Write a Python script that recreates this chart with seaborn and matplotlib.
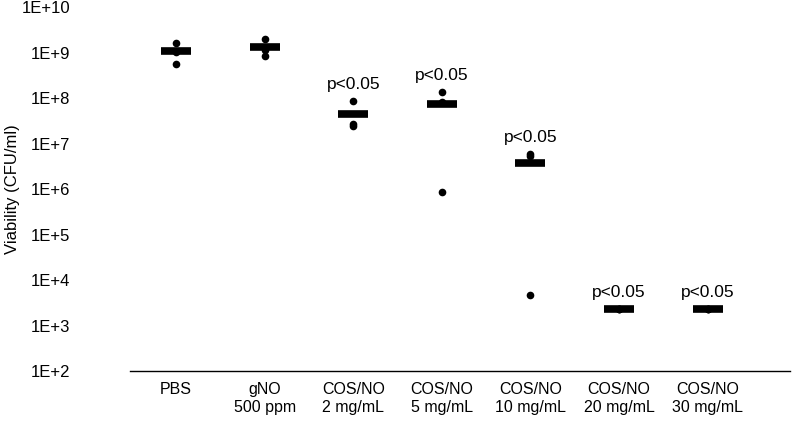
import numpy as np
import pandas as pd
import matplotlib
matplotlib.use('Agg')
import matplotlib.pyplot as plt
import seaborn as sns

# groups and replicate values (CFU/ml)
groups = ['PBS', 'gNO\n500 ppm', 'COS/NO\n2 mg/mL', 'COS/NO\n5 mg/mL',
          'COS/NO\n10 mg/mL', 'COS/NO\n20 mg/mL', 'COS/NO\n30 mg/mL']
rep1 = [1.6e9, 2.0e9, 8.4e7, 1.35e8, 5.8e6, 2.3e3, 2.3e3]
rep2 = [1.05e9, 1.12e9, 2.7e7, 8.1e7, 5.2e6, 2.3e3, 2.3e3]
rep3 = [5.7e8, 8.2e8, 2.4e7, 8.5e5, 4.7e3, 2.3e3, 2.3e3]
p_labels = ['', '', 'p<0.05', 'p<0.05', 'p<0.05', 'p<0.05', 'p<0.05']
y_ticks = [1e2, 1e3, 1e4, 1e5, 1e6, 1e7, 1e8, 1e9, 1e10]
y_ticklabels = ['1E+2', '1E+3', '1E+4', '1E+5', '1E+6', '1E+7', '1E+8', '1E+9', '1E+10']

df = pd.DataFrame({
    'group': groups * 3,
    'cfu': rep1 + rep2 + rep3,
})
# arithmetic mean per group (seaborn would average in log space on a log axis)
means = df.groupby('group', sort=False)['cfu'].mean().reset_index()

sns.set_theme(style='white')
plt.rcParams['font.family'] = ['Liberation Sans', 'DejaVu Sans']

fig = plt.figure(figsize=(8, 4.36), dpi=100)
ax = fig.add_axes([130 / 800, 1 - 371 / 436, 660 / 800, 364 / 436])
ax.set_yscale('log')

# individual points
sns.stripplot(data=df, x='group', y='cfu', order=groups, jitter=False,
              color='black', size=5.5, ax=ax, zorder=3)

# mean bars
sns.pointplot(data=means, x='group', y='cfu', order=groups,
              errorbar=None, linestyle='none', marker='_', markersize=21,
              markeredgewidth=5.5, color='black', ax=ax, zorder=4)

# significance labels above each group
for i, g in enumerate(groups):
    if p_labels[i]:
        top = df.loc[df['group'] == g, 'cfu'].max()
        ax.annotate(p_labels[i], xy=(i, top), xytext=(0, 12), textcoords='offset points',
                    ha='center', va='center', fontsize=12.5, color='black')

ax.set_ylim(1e2, 1e10)
ax.set_xlim(-0.52, 6.93)
ax.set_yticks(y_ticks)
ax.set_yticklabels(y_ticklabels)
ax.yaxis.set_minor_locator(matplotlib.ticker.NullLocator())
ax.tick_params(axis='y', length=0, pad=43, labelsize=12, colors='black')
ax.tick_params(axis='x', length=0, pad=8, labelsize=11.5, colors='black')
ax.set_xlabel('')
ax.set_ylabel('Viability (CFU/ml)', fontsize=12, color='black')
ax.yaxis.set_label_coords(-0.166, 0.5)

for side in ['left', 'right', 'top']:
    ax.spines[side].set_visible(False)
ax.spines['bottom'].set_color('black')
ax.spines['bottom'].set_linewidth(1)

fig.savefig('out.png', dpi=100)
